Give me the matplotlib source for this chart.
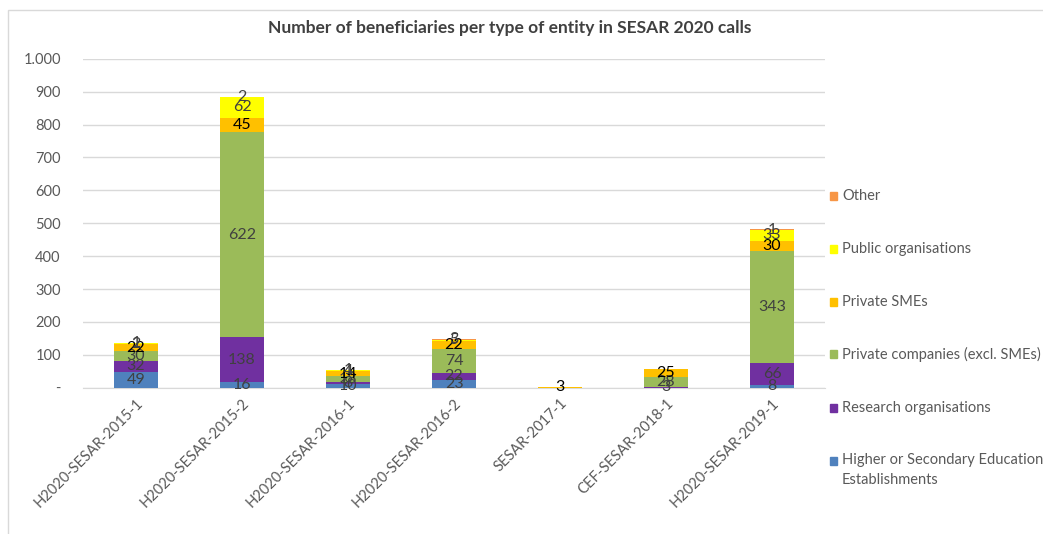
import matplotlib
matplotlib.use("Agg")
import matplotlib.pyplot as plt
from matplotlib.patches import Rectangle
from matplotlib.ticker import FixedLocator, FuncFormatter
import numpy as np

plt.rcParams['font.family'] = ['Lato', 'DejaVu Sans']

categories = ["H2020-SESAR-2015-1", "H2020-SESAR-2015-2", "H2020-SESAR-2016-1",
              "H2020-SESAR-2016-2", "SESAR-2017-1", "CEF-SESAR-2018-1", "H2020-SESAR-2019-1"]

series_names = ["Higher or Secondary Education\nEstablishments", "Research organisations",
                "Private companies (excl. SMEs)", "Private SMEs", "Public organisations", "Other"]

higher_edu = [49, 16, 10, 23, 0, 0, 8]
research = [32, 138, 8, 22, 0, 3, 66]
private_comp = [30, 622, 18, 74, 0, 28, 343]
private_smes = [22, 45, 14, 22, 3, 25, 30]
public_org = [2, 62, 4, 5, 0, 0, 33]
other = [1, 2, 1, 3, 0, 0, 1]

colors = ["#4F81BD", "#7030A0", "#9BBB59", "#FFC000", "#FFFF00", "#F79646"]
label_colors = ["#404040", "#404040", "#404040", "#000000", "#404040", "#404040"]

yticks = [0, 100, 200, 300, 400, 500, 600, 700, 800, 900, 1000]

series = [higher_edu, research, private_comp, private_smes, public_org, other]

fig = plt.figure(figsize=(10.43, 5.34), dpi=100)
ax = fig.add_axes([0.0796, 0.274, 0.7114, 0.616])

x = np.arange(len(categories))
bottom = np.zeros(len(categories))
width = 0.41
for vals, col, lc in zip(series, colors, label_colors):
    vals = np.array(vals, dtype=float)
    ax.bar(x, vals, width, bottom=bottom, color=col, zorder=3)
    for xi, v, b in zip(x, vals, bottom):
        if v > 0:
            ax.text(xi, b + v / 2, f"{int(v)}", ha="center", va="center",
                    fontsize=11.5, color=lc, zorder=4)
    bottom += vals

ax.set_xlim(-0.5, len(categories) - 0.5)
ax.set_ylim(0, 1000)
ax.yaxis.set_major_locator(FixedLocator(yticks))

def fmt(v, pos):
    if v == 0:
        return "-"
    return f"{int(v):,}".replace(",", ".")

ax.yaxis.set_major_formatter(FuncFormatter(fmt))
ax.grid(axis="y", color="#D9D9D9", linewidth=1, zorder=0)
for s in ["top", "right", "left"]:
    ax.spines[s].set_visible(False)
ax.spines["bottom"].set_color("#D9D9D9")
ax.tick_params(axis="y", length=0, labelsize=10.5, labelcolor="#595959", pad=16)
ax.tick_params(axis="x", length=0, labelsize=10.5, labelcolor="#595959", pad=6)
ax.set_xticks(x)
ax.set_xticklabels(categories, rotation=45, ha="right", rotation_mode="anchor")

fig.text(0.489, 0.948, "Number of beneficiaries per type of entity in SESAR 2020 calls",
         ha="center", va="center", fontsize=12.5, fontweight="bold", color="#404040")

# legend (reversed order)
leg_y = [196, 249, 302, 354, 408, 461]
W, H = 1043, 534
for name, col, yp in zip(series_names[::-1], colors[::-1], leg_y):
    fig.add_artist(Rectangle((830 / W, 1 - (yp + 4) / H), 7 / W, 8 / H,
                             transform=fig.transFigure, color=col))
    if "\n" in name:
        fig.text(842 / W, 1 - (yp - 8) / H, name, ha="left", va="top",
                 fontsize=10.5, color="#595959", linespacing=1.55)
    else:
        fig.text(842 / W, 1 - yp / H, name, ha="left", va="center",
                 fontsize=10.5, color="#595959")

fig.add_artist(Rectangle((8 / W, -0.01), 1.02, 1 - 10 / H + 0.01, transform=fig.transFigure,
                         fill=False, edgecolor="#D9D9D9", linewidth=1))

fig.savefig("out.png", dpi=100)
